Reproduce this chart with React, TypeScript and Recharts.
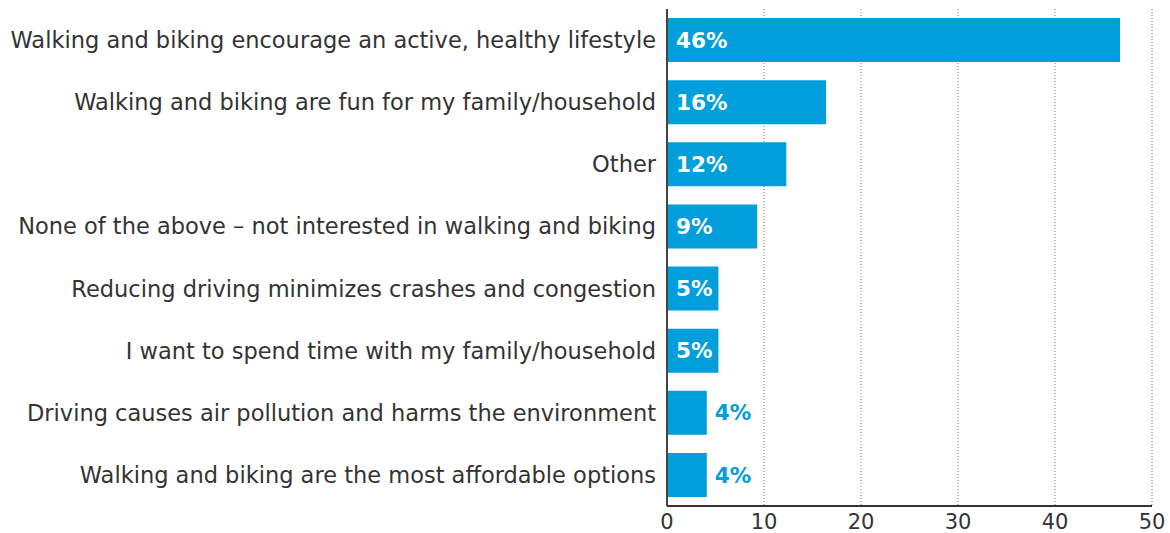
import { BarChart, Bar, XAxis, YAxis, CartesianGrid, LabelList } from 'recharts';

const reasons = [
    'Walking and biking encourage an active, healthy lifestyle',
    'Walking and biking are fun for my family/household',
    'Other',
    'None of the above – not interested in walking and biking',
    'Reducing driving minimizes crashes and congestion',
    'I want to spend time with my family/household',
    'Driving causes air pollution and harms the environment',
    'Walking and biking are the most affordable options',
];
const shares = [46.7, 16.4, 12.3, 9.3, 5.3, 5.3, 4.1, 4.1];
const shareLabels = ['46%', '16%', '12%', '9%', '5%', '5%', '4%', '4%'];
const xTicks = [0, 10, 20, 30, 40, 50];

const BLUE = '#009edb';
const FONT = '"DejaVu Sans", sans-serif';

const data = reasons.map((r, i) => ({ reason: r, share: shares[i], label: shareLabels[i] }));

function ValueLabel(props: any) {
    const { x, y, width, height, index } = props;
    const inside = shares[index] >= 5;
    return (
        <text
            x={inside ? x + 9 : x + width + 8}
            y={y + height / 2}
            dy="0.36em"
            fill={inside ? '#fff' : BLUE}
            fontFamily={FONT}
            fontWeight="bold"
            fontSize={21.5}
        >
            {shareLabels[index]}
        </text>
    );
}

export default function App() {
    return (
        <div style={{ position: 'absolute', left: 0, top: 0 }}>
            <BarChart
                width={1170}
                height={533}
                data={data}
                layout="vertical"
                margin={{ top: 9, right: 18, left: 0, bottom: 0 }}
            >
                <CartesianGrid horizontal={false} stroke="#777" strokeDasharray="1 2" />
                <XAxis
                    type="number"
                    domain={[0, 50]}
                    ticks={xTicks}
                    height={27}
                    tickLine={false}
                    axisLine={{ stroke: '#333', strokeWidth: 2 }}
                    tick={{ fontSize: 21, fill: '#333', fontFamily: FONT }}
                    tickMargin={2}
                />
                <YAxis
                    type="category"
                    dataKey="reason"
                    width={667}
                    tickLine={false}
                    axisLine={{ stroke: '#444', strokeWidth: 2 }}
                    tick={{ fontSize: 22.5, fill: '#333', fontFamily: FONT }}
                    tickMargin={5}
                    interval={0}
                />
                <Bar dataKey="share" fill={BLUE} barSize={44} isAnimationActive={false}>
                    <LabelList dataKey="label" content={<ValueLabel />} />
                </Bar>
            </BarChart>
        </div>
    );
}
